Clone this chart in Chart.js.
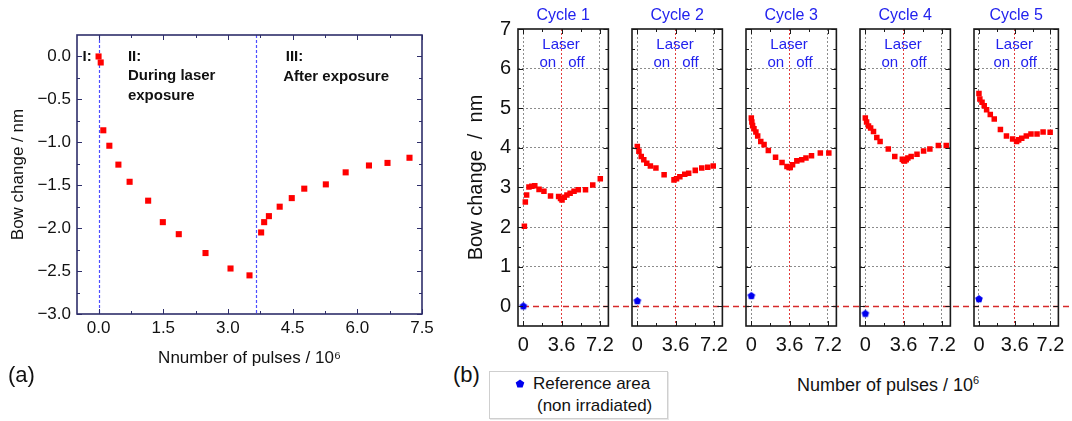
<!DOCTYPE html>
<html>
<head>
<meta charset="utf-8">
<script src="https://cdn.jsdelivr.net/npm/chart.js"></script>
<style>
  body { margin: 0; background: #fff; }
  #lienzo { position: relative; width: 1072px; height: 421px; overflow: hidden;
            font-family: 'Liberation Sans', Arial, sans-serif; color: #111; }
  #lienzo canvas { position: absolute; top: 0; }
  .texto { position: absolute; white-space: nowrap; }
  #leyenda { position: absolute; left: 489px; top: 371px; width: 177px; height: 46px;
             border: 1px solid #cfcfcf; box-shadow: 1px 1px 0 #e8e8e8; font-size: 17px; line-height: 20px; }
</style>
</head>
<body>
<div id="lienzo">
  <canvas id="graficaA" width="440" height="421" style="left:0px;width:440px;height:421px"></canvas>

  <div class="texto" style="left:8px; top:362px; font-size:22px; line-height:26px">(a)</div>
  <div class="texto" style="left:453px; top:362px; font-size:22px; line-height:26px">(b)</div>
  <div class="texto" style="left:888px; top:369px; transform:translateX(-50%); font-size:18px; line-height:22px">Number of pulses / 10<sup style="font-size:11px; vertical-align:7px">6</sup></div>

  <div id="leyenda">
    <svg width="10" height="10" style="position:absolute; left:25px; top:7px">
      <polygon points="5,0.5 9.3,3.6 7.6,8.6 2.4,8.6 0.7,3.6" fill="#0000ee"></polygon>
    </svg>
    <span class="texto" style="left:43px; top:2px">Reference area</span>
    <span class="texto" style="left:47px; top:24px">(non irradiated)</span>
  </div>
</div>

<script>
// ---- datos del panel (a) ----
var pulsosA = [0, 0.05, 0.11, 0.25, 0.46, 0.72, 1.15, 1.49, 1.86, 2.48, 3.06, 3.5, 3.77, 3.84, 3.95, 4.2, 4.48, 4.77, 5.27, 5.73, 6.27, 6.7, 7.21];
var bowA = [0, -0.07, -0.86, -1.04, -1.26, -1.46, -1.68, -1.93, -2.07, -2.29, -2.47, -2.55, -2.05, -1.93, -1.86, -1.75, -1.65, -1.54, -1.49, -1.35, -1.27, -1.24, -1.18];
var limitesRegiones = [0, 3.65];
var ticksXA = [0, 1.5, 3, 4.5, 6, 7.5];
var ticksMenoresXA = [0.75, 2.25, 3.75, 5.25, 6.75];
var ticksYA = [0, -0.5, -1, -1.5, -2, -2.5, -3];
var ticksMenoresYA = [-0.25, -0.75, -1.25, -1.75, -2.25, -2.75];

// ---- datos del panel (b) ----
var nombresCiclos = ['Cycle 1', 'Cycle 2', 'Cycle 3', 'Cycle 4', 'Cycle 5'];
var pulsosCiclo1 = [0.1, 0.19, 0.31, 0.53, 0.8, 1.08, 1.48, 1.94, 2.56, 3.32, 3.5, 3.64, 3.85, 4.1, 4.4, 4.77, 5.17, 5.85, 6.53, 7.24];
var bowCiclo1 = [2.02, 2.63, 2.81, 3.01, 3.03, 3.04, 2.95, 2.9, 2.78, 2.77, 2.72, 2.68, 2.75, 2.81, 2.85, 2.9, 2.94, 2.94, 3.06, 3.22];
var pulsosCiclo2 = [0, 0.15, 0.37, 0.61, 0.89, 1.23, 1.75, 2.52, 3.45, 3.69, 4.0, 4.46, 4.83, 5.45, 6.06, 6.62, 7.14];
var bowCiclo2 = [4.03, 3.91, 3.78, 3.7, 3.61, 3.54, 3.49, 3.32, 3.19, 3.22, 3.27, 3.33, 3.36, 3.43, 3.49, 3.51, 3.54];
var pulsosCiclo3 = [0, 0.05, 0.12, 0.25, 0.43, 0.6, 0.89, 1.2, 1.6, 2.28, 2.89, 3.35, 3.55, 3.66, 3.88, 4.28, 4.74, 5.14, 5.66, 6.49, 7.29];
var bowCiclo3 = [4.75, 4.65, 4.56, 4.48, 4.4, 4.3, 4.16, 4.08, 3.93, 3.76, 3.63, 3.53, 3.5, 3.5, 3.57, 3.67, 3.7, 3.74, 3.8, 3.87, 3.87];
var pulsosCiclo4 = [0, 0.12, 0.3, 0.5, 0.77, 1.08, 1.39, 2.16, 2.77, 3.48, 3.6, 3.69, 3.85, 4.0, 4.31, 4.86, 5.48, 6.07, 6.87, 7.61];
var bowCiclo4 = [4.75, 4.65, 4.55, 4.5, 4.41, 4.26, 4.16, 3.97, 3.78, 3.71, 3.68, 3.67, 3.7, 3.74, 3.78, 3.84, 3.92, 3.97, 4.06, 4.06];
var pulsosCiclo5 = [0, 0.09, 0.31, 0.53, 0.77, 1.14, 1.54, 2.16, 2.77, 3.39, 3.79, 4.0, 4.31, 4.77, 5.24, 5.85, 6.46, 7.17];
var bowCiclo5 = [5.37, 5.23, 5.15, 5.06, 4.96, 4.84, 4.73, 4.46, 4.3, 4.22, 4.16, 4.2, 4.24, 4.3, 4.35, 4.35, 4.4, 4.39];
var referenciaBow = [0, 0.13, 0.26, -0.19, 0.18];
var ticksXB = [0, 3.6, 7.2];
var ticksMenoresXB = [1.8, 5.4];
var ticksYB = [0, 1, 2, 3, 4, 5, 6, 7];
var ticksMenoresYB = [0.5, 1.5, 2.5, 3.5, 4.5, 5.5, 6.5];

var pulsosCiclos = [pulsosCiclo1, pulsosCiclo2, pulsosCiclo3, pulsosCiclo4, pulsosCiclo5];
var bowCiclos = [bowCiclo1, bowCiclo2, bowCiclo3, bowCiclo4, bowCiclo5];

const FUENTE = "'Liberation Sans', Arial, sans-serif";
Chart.defaults.font.family = FUENTE;
Chart.defaults.color = '#111';

//junta dos arrays en puntos {x, y}
function aPuntos(xs, ys) {
    return xs.map((v, i) => ({x: v, y: ys[i]}));
}

//pone los ticks que queremos en la escala
function fijarTicks(valores) {
    return s => { s.ticks = valores.map(v => ({value: v})); };
}

//marco del grafico con los ticks hacia dentro en los cuatro lados
function dibujarMarco(chart, color, xMay, xMen, yMay, yMen) {
    var ctx = chart.ctx, a = chart.chartArea, sx = chart.scales.x, sy = chart.scales.y;
    ctx.save();
    ctx.strokeStyle = color;
    ctx.lineWidth = 1;
    ctx.beginPath();
    var tickX = (v, largo) => {
        var p = Math.round(sx.getPixelForValue(v)) + 0.5;
        ctx.moveTo(p, a.bottom); ctx.lineTo(p, a.bottom - largo);
        ctx.moveTo(p, a.top); ctx.lineTo(p, a.top + largo);
    };
    var tickY = (v, largo) => {
        var p = Math.round(sy.getPixelForValue(v)) + 0.5;
        ctx.moveTo(a.left, p); ctx.lineTo(a.left + largo, p);
        ctx.moveTo(a.right, p); ctx.lineTo(a.right - largo, p);
    };
    xMay.forEach(v => tickX(v, 5));
    xMen.forEach(v => tickX(v, 3));
    yMay.forEach(v => tickY(v, 5));
    yMen.forEach(v => tickY(v, 3));
    ctx.stroke();
    ctx.lineWidth = 1.6;
    ctx.strokeRect(a.left, a.top, a.right - a.left, a.bottom - a.top);
    ctx.restore();
}

function escribir(ctx, texto, x, y, fuente, color, alinear) {
    ctx.font = fuente;
    ctx.fillStyle = color;
    ctx.textAlign = alinear;
    ctx.textBaseline = 'middle';
    ctx.fillText(texto, x, y);
}

//formato de las etiquetas del panel (a), con signo menos de verdad
function formatoA(v) {
    return v < 0 ? '\u2212' + Math.abs(v).toFixed(1) : v.toFixed(1);
}

// ---------------- panel (a) ----------------
var pluginA = {
    id: 'panelA',
    beforeDatasetsDraw(chart) {
        var ctx = chart.ctx, a = chart.chartArea, sx = chart.scales.x;
        ctx.save();
        ctx.strokeStyle = '#4d4dff';
        ctx.lineWidth = 1.2;
        ctx.setLineDash([3, 2]);
        limitesRegiones.forEach(v => {
            var p = Math.round(sx.getPixelForValue(v)) + 0.5;
            ctx.beginPath(); ctx.moveTo(p, a.top); ctx.lineTo(p, a.bottom); ctx.stroke();
        });
        ctx.restore();
    },
    afterDatasetsDraw(chart) {
        dibujarMarco(chart, '#2e2e6a', ticksXA, ticksMenoresXA, ticksYA, ticksMenoresYA);
    },
    afterDraw(chart) {
        var ctx = chart.ctx, sx = chart.scales.x, sy = chart.scales.y;
        var negrita = "bold 15px " + FUENTE;
        ctx.save();
        //textos de las regiones
        [['I:', -0.37, 0], ['II:', 0.68, 0], ['During laser', 0.68, -0.23], ['exposure', 0.68, -0.46],
         ['III:', 4.34, 0], ['After exposure', 4.28, -0.24]].forEach(t => {
            escribir(ctx, t[0], sx.getPixelForValue(t[1]), sy.getPixelForValue(t[2]), negrita, '#111', 'left');
        });
        ctx.restore();
    }
};

new Chart(document.getElementById('graficaA'), {
    type: 'scatter',
    data: {
        datasets: [{
            data: aPuntos(pulsosA, bowA),
            pointStyle: 'rect',
            pointRadius: 4.3,
            pointBackgroundColor: '#ff0000',
            pointBorderWidth: 0
        }]
    },
    options: {
        responsive: false,
        animation: false,
        events: [],
        layout: {padding: {left: 0, top: 35, right: 18, bottom: 0}},
        plugins: {legend: {display: false}, tooltip: {enabled: false}},
        scales: {
            x: {
                type: 'linear', min: -0.5, max: 7.5,
                afterBuildTicks: fijarTicks(ticksXA),
                afterFit: s => { s.height = 107; },
                grid: {display: false, drawTicks: false},
                border: {display: false},
                ticks: {padding: 4, font: {size: 17}, color: '#111', autoSkip: false, maxRotation: 0, callback: v => formatoA(v)},
                title: {display: true, text: 'Nnumber of pulses / 10\u2076', font: {size: 17}, color: '#111', padding: {top: 0, bottom: 52}}
            },
            y: {
                min: -3, max: 0.25,
                afterBuildTicks: fijarTicks(ticksYA),
                afterFit: s => { s.width = 77; },
                grid: {display: false, drawTicks: false},
                border: {display: false},
                ticks: {padding: 6, font: {size: 17}, color: '#111', autoSkip: false, callback: v => formatoA(v)},
                title: {display: true, text: 'Bow change / nm', font: {size: 17}, color: '#111', padding: {top: 8, bottom: 0}}
            }
        }
    },
    plugins: [pluginA]
});

// ---------------- panel (b) ----------------
var izquierdasCanvas = [440, 622, 736, 850, 964];
var anchosCanvas = [182, 114, 114, 114, 108];
var origenLinea = 523; //donde empieza la linea roja discontinua (x = 0 del ciclo 1)

//pentagono azul para el area de referencia
function pentagono(r, color) {
    var c = document.createElement('canvas');
    c.width = c.height = 2 * r + 2;
    var g = c.getContext('2d');
    g.fillStyle = color;
    g.beginPath();
    for (var i = 0; i < 5; i++) {
        var ang = -Math.PI / 2 + i * 2 * Math.PI / 5;
        g.lineTo(r + 1 + r * Math.cos(ang), r + 1 + r * Math.sin(ang));
    }
    g.closePath();
    g.fill();
    return c;
}
var marcaReferencia = pentagono(4, '#0000ee');

function pluginCiclo(i) {
    return {
        id: 'ciclo' + i,
        beforeDatasetsDraw(chart) {
            //linea roja discontinua en y = 0, sigue de un panel al siguiente
            var ctx = chart.ctx, sx = chart.scales.x, sy = chart.scales.y;
            var py = Math.round(sy.getPixelForValue(0)) + 0.5;
            var inicio = i === 0 ? sx.getPixelForValue(0) : 0;
            ctx.save();
            ctx.strokeStyle = '#d62a2a';
            ctx.lineWidth = 1.3;
            ctx.setLineDash([6, 4]);
            ctx.lineDashOffset = izquierdasCanvas[i] + inicio - origenLinea;
            ctx.beginPath(); ctx.moveTo(inicio, py); ctx.lineTo(chart.width, py); ctx.stroke();
            ctx.restore();
        },
        afterDatasetsDraw(chart) {
            dibujarMarco(chart, '#1a1a1a', ticksXB, ticksMenoresXB, ticksYB, ticksMenoresYB);
        },
        afterDraw(chart) {
            var ctx = chart.ctx, a = chart.chartArea, sx = chart.scales.x, sy = chart.scales.y;
            var azul = '#2222ee';
            ctx.save();
            escribir(ctx, nombresCiclos[i], (a.left + a.right) / 2, 16, '16px ' + FUENTE, azul, 'center');
            escribir(ctx, 'Laser', sx.getPixelForValue(3.55), sy.getPixelForValue(6.6), '15px ' + FUENTE, azul, 'center');
            escribir(ctx, 'on', sx.getPixelForValue(2.3), sy.getPixelForValue(6.15), '15px ' + FUENTE, azul, 'center');
            escribir(ctx, 'off', sx.getPixelForValue(5.0), sy.getPixelForValue(6.15), '15px ' + FUENTE, azul, 'center');
            ctx.restore();
        }
    };
}

function crearCiclo(i) {
    var esPrimero = i === 0;
    var canvas = document.createElement('canvas');
    canvas.width = anchosCanvas[i];
    canvas.height = 421;
    canvas.style.left = izquierdasCanvas[i] + 'px';
    canvas.style.width = anchosCanvas[i] + 'px';
    canvas.style.height = '421px';
    document.getElementById('lienzo').appendChild(canvas);

    new Chart(canvas, {
        type: 'scatter',
        data: {
            datasets: [{
                data: aPuntos(pulsosCiclos[i], bowCiclos[i]),
                pointStyle: 'rect',
                pointRadius: 3.9,
                pointBackgroundColor: '#ff0000',
                pointBorderWidth: 0
            }, {
                data: [{x: 0, y: referenciaBow[i]}],
                pointStyle: marcaReferencia,
                pointRadius: 4
            }]
        },
        options: {
            responsive: false,
            animation: false,
            events: [],
            layout: {padding: {left: esPrimero ? 0 : 10, top: 29, right: i === 4 ? 7 : 13, bottom: 0}},
            plugins: {legend: {display: false}, tooltip: {enabled: false}},
            scales: {
                x: {
                    type: 'linear', min: -0.5, max: 8,
                    afterBuildTicks: fijarTicks(ticksXB),
                    afterFit: s => { s.height = 95; },
                    grid: {drawTicks: false, color: c => c.tick && c.tick.value === 3.6 ? '#e23a3a' : '#8c8c8c'},
                    border: {display: false, dash: [2, 2]},
                    ticks: {padding: 7, font: {size: 20}, color: '#111', autoSkip: false, maxRotation: 0, callback: v => String(v)}
                },
                y: {
                    min: -0.5, max: 7,
                    afterBuildTicks: fijarTicks(ticksYB),
                    afterFit: s => { s.width = esPrimero ? 78 : 0; },
                    grid: {drawTicks: false, color: c => c.tick && (c.tick.value === 0 || c.tick.value === 7) ? 'rgba(0,0,0,0)' : '#8c8c8c'},
                    border: {display: false, dash: [2, 2]},
                    ticks: {display: esPrimero, padding: 7, font: {size: 20}, color: '#111', autoSkip: false},
                    title: {display: esPrimero, text: 'Bow change  /  nm', font: {size: 20}, color: '#111', padding: {top: 24, bottom: 0}}
                }
            }
        },
        plugins: [pluginCiclo(i)]
    });
}

nombresCiclos.forEach((n, i) => crearCiclo(i));
</script>
</body>
</html>
